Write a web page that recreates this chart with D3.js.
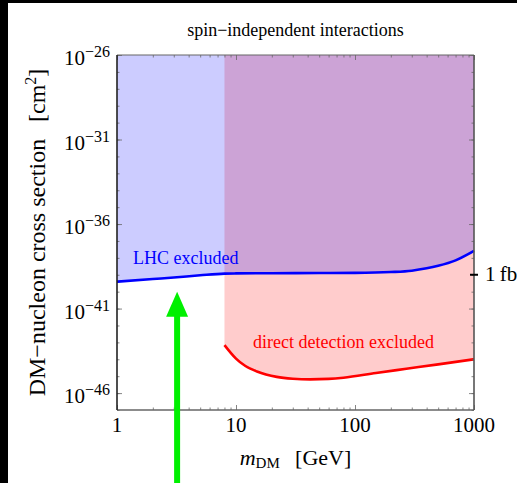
<!DOCTYPE html>
<html>
<head>
<meta charset="utf-8">
<script src="https://cdn.jsdelivr.net/npm/d3@7"></script>
<style>
  html, body { margin: 0; padding: 0; background: #fff; }
  svg { display: block; }
  text { font-family: "Liberation Serif", "Times New Roman", serif; }
</style>
</head>
<body>
<div id="container"></div>
<script>
// LHC mono-jet bound (mass in GeV, cross section in cm^2)
const lhcMass = [1, 2, 3, 5, 8, 10, 20, 50, 100, 200, 300, 400, 500, 700, 1000];
const lhcSigma = [3.9e-40, 5.6e-40, 6.9e-40, 9.3e-40, 1.17e-39, 1.2e-39, 1.23e-39, 1.26e-39,
  1.29e-39, 1.45e-39, 1.74e-39, 2.4e-39, 3.4e-39, 7.1e-39, 2.6e-38];

// direct detection bound
const ddMass = [8, 9, 10, 12, 15, 22, 30, 42, 60, 80, 150, 270, 500, 1000];
const ddSigma = [6.9e-44, 2.5e-44, 1.1e-44, 4.0e-45, 1.9e-45, 9.1e-46, 7.1e-46, 6.5e-46,
  6.9e-46, 8.1e-46, 1.55e-45, 2.75e-45, 5.0e-45, 1.0e-44];

const xTicks = [1, 10, 100, 1000];
const yTickExps = [-26, -31, -36, -41, -46];
const oneFb = 1e-39;

// green arrow marker
const arrowMass = 3.2;
const arrowTip = 1e-40;

const W = 517, H = 483;
const plot = { left: 117, right: 474, top: 55, bottom: 410 };

const x = d3.scaleLog().domain([1, 1000]).range([plot.left, plot.right]);
const y = d3.scaleLog().domain([1e-47, 1e-26]).range([plot.bottom, plot.top]);

const svg = d3.select('#container').append('svg')
  .attr('width', W).attr('height', H);

svg.append('rect').attr('width', W).attr('height', H).attr('fill', '#fff');
// black edges of the screenshot
svg.append('rect').attr('x', 0).attr('y', 0).attr('width', 8).attr('height', H).attr('fill', '#000');
svg.append('rect').attr('x', 0).attr('y', 0).attr('width', W).attr('height', 3).attr('fill', '#000');

const lhcPts = lhcMass.map((m, i) => [m, lhcSigma[i]]);
const ddPts = ddMass.map((m, i) => [m, ddSigma[i]]);

const area = d3.area()
  .x(d => x(d[0]))
  .y0(plot.top)
  .y1(d => y(d[1]))
  .curve(d3.curveMonotoneX);

const line = d3.line()
  .x(d => x(d[0]))
  .y(d => y(d[1]))
  .curve(d3.curveMonotoneX);

svg.append('path').datum(ddPts).attr('d', area)
  .attr('fill', '#ff0000').attr('fill-opacity', 0.2);
svg.append('path').datum(lhcPts).attr('d', area)
  .attr('fill', '#0000ff').attr('fill-opacity', 0.2);

svg.append('path').datum(lhcPts).attr('d', line)
  .attr('fill', 'none').attr('stroke', '#0000ff').attr('stroke-width', 2.6);
svg.append('path').datum(ddPts).attr('d', line)
  .attr('fill', 'none').attr('stroke', '#ff0000').attr('stroke-width', 2.6);

// minor tick values
const xMinor = [];
[1, 10, 100].forEach(d => { for (let k = 2; k <= 9; k++) xMinor.push(d * k); });
const yMinor = d3.range(-47, -25).map(e => Math.pow(10, e));
const yMajor = yTickExps.map(e => Math.pow(10, e));

function tickAxis(axisFn, scale, values, size, tx, ty, color) {
  const g = svg.append('g')
    .attr('transform', `translate(${tx},${ty})`)
    .call(axisFn(scale).tickValues(values).tickSize(size).tickFormat(''));
  g.select('.domain').remove();
  g.selectAll('line').attr('stroke', color).attr('stroke-width', 0.8);
  return g;
}

tickAxis(d3.axisBottom, x, xMinor, -2.5, 0, plot.bottom, '#666');
tickAxis(d3.axisBottom, x, xTicks, -5, 0, plot.bottom, '#666');
tickAxis(d3.axisTop, x, xMinor, -2.5, 0, plot.top, '#666');
tickAxis(d3.axisTop, x, xTicks, -5, 0, plot.top, '#666');
tickAxis(d3.axisLeft, y, yMinor, -2.5, plot.left, 0, '#666');
tickAxis(d3.axisLeft, y, yMajor, -5, plot.left, 0, '#666');
tickAxis(d3.axisRight, y, yMinor, -2.5, plot.right, 0, '#666');
tickAxis(d3.axisRight, y, yMajor, -5, plot.right, 0, '#666');

// frame
svg.append('line').attr('x1', plot.left).attr('x2', plot.right)
  .attr('y1', plot.top).attr('y2', plot.top).attr('stroke', '#666').attr('stroke-width', 1.2);
svg.append('line').attr('x1', plot.left).attr('x2', plot.right)
  .attr('y1', plot.bottom).attr('y2', plot.bottom).attr('stroke', '#666').attr('stroke-width', 1.6);
svg.append('line').attr('x1', plot.right).attr('x2', plot.right)
  .attr('y1', plot.top).attr('y2', plot.bottom).attr('stroke', '#555').attr('stroke-width', 1.6);
svg.append('line').attr('x1', plot.left).attr('x2', plot.left)
  .attr('y1', plot.top).attr('y2', plot.bottom).attr('stroke', '#222').attr('stroke-width', 1.6);

// x tick labels
svg.append('g').selectAll('text').data(xTicks).enter().append('text')
  .attr('x', d => x(d)).attr('y', plot.bottom + 22)
  .attr('text-anchor', 'middle')
  .style('font-size', '21px')
  .text(d => d);

// y tick labels: 10^e
const yl = svg.append('g').selectAll('text').data(yTickExps).enter().append('text')
  .attr('x', plot.left - 7).attr('y', d => y(Math.pow(10, d)) + 10)
  .attr('text-anchor', 'end')
  .style('font-size', '21px');
yl.append('tspan').text('10');
yl.append('tspan').attr('dy', -8).style('font-size', '16px').text(d => '\u2212' + Math.abs(d));

// 1 fb marker
svg.append('line').attr('x1', plot.right - 4).attr('x2', plot.right + 4)
  .attr('y1', y(oneFb)).attr('y2', y(oneFb)).attr('stroke', '#000').attr('stroke-width', 2);
svg.append('text').attr('x', plot.right + 11).attr('y', y(oneFb) + 6.5)
  .style('font-size', '21px').text('1\u2009fb');

// title
svg.append('text').attr('x', (plot.left + plot.right) / 2).attr('y', 36)
  .attr('text-anchor', 'middle').style('font-size', '18px')
  .text('spin\u2212independent interactions');

// x label
const xl = svg.append('text').attr('x', (plot.left + plot.right) / 2).attr('y', 465)
  .attr('text-anchor', 'middle').style('font-size', '22px');
xl.append('tspan').style('font-style', 'italic').text('m');
xl.append('tspan').attr('dy', 3).style('font-size', '15px').text('DM');
xl.append('tspan').attr('dy', -3).text('\u2002\u2009[GeV]');

// y label
const ylab = svg.append('text')
  .attr('transform', `translate(45,${(plot.top + plot.bottom) / 2}) rotate(-90)`)
  .attr('text-anchor', 'middle').style('font-size', '24px');
ylab.append('tspan').text('DM\u2212nucleon cross section\u2002\u2009[cm');
ylab.append('tspan').attr('dy', -9).style('font-size', '16px').text('2');
ylab.append('tspan').attr('dy', 9).text(']');

// region labels
svg.append('text').attr('x', 133).attr('y', 264)
  .attr('fill', '#0000ff').style('font-size', '18px').text('LHC excluded');
svg.append('text').attr('x', 253).attr('y', 348)
  .attr('fill', '#ff0000').style('font-size', '18px').text('direct detection excluded');

// green arrow
const ax = x(arrowMass), ay = y(arrowTip);
svg.append('line').attr('x1', ax).attr('x2', ax).attr('y1', ay + 20).attr('y2', H)
  .attr('stroke', '#00f000').attr('stroke-width', 6);
svg.append('path')
  .attr('d', `M${ax},${ay} L${ax - 11},${ay + 25} L${ax + 11},${ay + 25} Z`)
  .attr('fill', '#00f000');
</script>
</body>
</html>
